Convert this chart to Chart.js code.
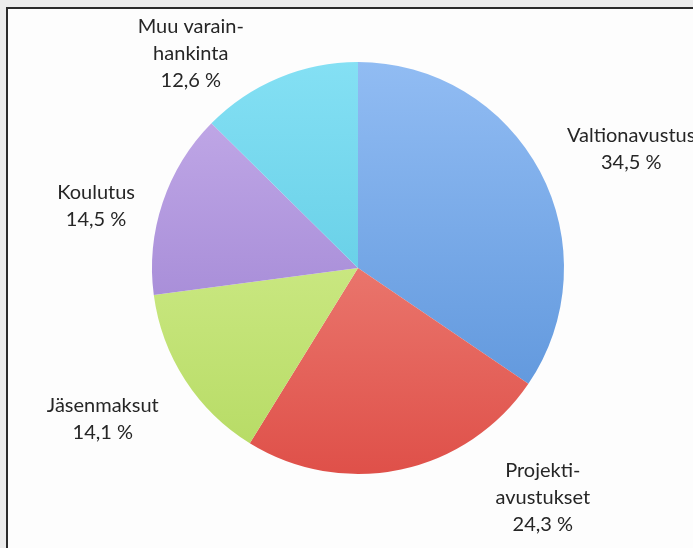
<!DOCTYPE html>
<html>
<head>
<meta charset="utf-8">
<script src="https://cdn.jsdelivr.net/npm/chart.js@4"></script>
<style>
  html, body { margin: 0; padding: 0; background: #e9e9e9; }
  #kehys { position: relative; width: 693px; height: 548px; overflow: hidden; background: #ececec; }
  #reuna { position: absolute; left: 6px; top: 7px; width: 700px; height: 560px; border: 2px solid #2b2b2b; background: #fdfdfd; }
  #graafi { position: absolute; left: 0; top: 0; }
</style>
</head>
<body>
<div id="kehys">
  <div id="reuna"></div>
  <canvas id="graafi" width="693" height="548"></canvas>
</div>
<script>
var kategoriat = ["Valtionavustus", "Projektiavustukset", "Jäsenmaksut", "Koulutus", "Muu varainhankinta"];
var osuudet = [34.5, 24.3, 14.1, 14.5, 12.6];
var nimiRivit = [["Valtionavustus"], ["Projekti-", "avustukset"], ["Jäsenmaksut"], ["Koulutus"], ["Muu varain-", "hankinta"]];

// värit: vaalea ylhäällä, tummempi alhaalla
var varit = [
  ["#91bcf3", "#5690d8"],
  ["#f49a8f", "#df5049"],
  ["#ddf49e", "#b5da62"],
  ["#c6aeea", "#9377cc"],
  ["#84e0f4", "#50c2dc"]
];

function liukuvari(context) {
  var chart = context.chart;
  var area = chart.chartArea;
  if (!area) return varit[context.dataIndex][0];
  var g = chart.ctx.createLinearGradient(0, area.top, 0, area.bottom);
  g.addColorStop(0, varit[context.dataIndex][0]);
  g.addColorStop(1, varit[context.dataIndex][1]);
  return g;
}

function muotoile(v) {
  return v.toFixed(1).replace(".", ",") + " %";
}

var selitteet = {
  id: "selitteet",
  afterDraw: function (chart, args, opts) {
    var ctx = chart.ctx;
    var arcs = chart.getDatasetMeta(0).data;
    ctx.save();
    ctx.font = opts.fontti;
    ctx.fillStyle = opts.vari;
    ctx.textAlign = "center";
    ctx.textBaseline = "middle";
    arcs.forEach(function (arc, i) {
      var p = arc.getProps(["x", "y", "startAngle", "endAngle", "outerRadius"], true);
      var kulma = (p.startAngle + p.endAngle) / 2;
      var r = p.outerRadius + opts.etaisyys;
      var x = p.x + Math.cos(kulma) * r + opts.siirrot[i][0];
      var y = p.y + Math.sin(kulma) * r + opts.siirrot[i][1];
      var rivit = nimiRivit[i].concat([muotoile(osuudet[i])]);
      var y0 = y - (rivit.length - 1) * opts.rivivali / 2;
      rivit.forEach(function (t, j) {
        ctx.fillText(t, x, y0 + j * opts.rivivali);
      });
    });
    ctx.restore();
  }
};

var el = document.getElementById("graafi");
new Chart(el, {
  type: "pie",
  data: {
    labels: kategoriat,
    datasets: [
      {
        data: osuudet,
        backgroundColor: liukuvari,
        borderWidth: 0
      }
    ]
  },
  options: {
    responsive: false,
    animation: false,
    layout: {
      padding: { left: 152, right: 129, top: 62, bottom: 74 }
    },
    plugins: {
      legend: { display: false },
      tooltip: { enabled: false },
      selitteet: {
        fontti: "20px Lato",
        vari: "#262626",
        rivivali: 27,
        etaisyys: 85,
        siirrot: [[16, 17], [124, -55], [-11, -7], [14, 31], [-55, 54]]
      }
    }
  },
  plugins: [selitteet]
});
</script>
</body>
</html>
